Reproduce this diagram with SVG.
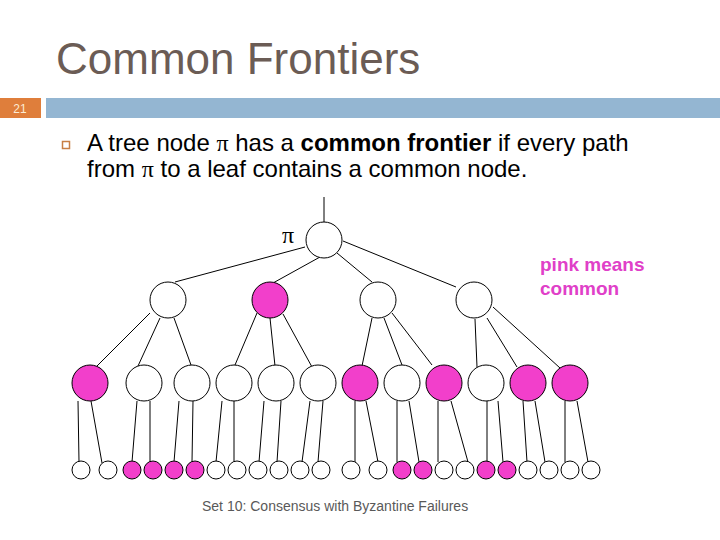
<svg xmlns="http://www.w3.org/2000/svg" width="720" height="540" viewBox="0 0 720 540">
<style>
.n{stroke:#000;stroke-width:1}
.w{fill:#fff}
.p{fill:#F23FCB}
.e{stroke:#000;stroke-width:1;fill:none}
.t{font-family:"Liberation Sans",Arial,sans-serif}
</style>
<rect width="720" height="540" fill="#fff"/>
<text class="t" x="56" y="74" font-size="44" fill="#6B5C55">Common Frontiers</text>
<rect x="0" y="98" width="41" height="20" fill="#DF7E3B"/>
<rect x="46" y="98" width="674" height="20" fill="#94B6D2"/>
<text class="t" x="20" y="113" font-size="12" fill="#FCEBD3" text-anchor="middle">21</text>
<rect x="62.5" y="141.5" width="7" height="7" fill="none" stroke="#C87F45" stroke-width="1.5"/>
<text class="t" font-size="24" fill="#000"><tspan x="87" y="151">A tree node <tspan font-family="'Liberation Serif',serif">π</tspan> has a <tspan font-weight="bold">common frontier</tspan> if every path</tspan><tspan x="87" y="177">from <tspan font-family="'Liberation Serif',serif">π</tspan> to a leaf contains a common node.</tspan></text>
<text x="282" y="243" font-size="24" font-family="'Liberation Serif',serif" fill="#000">π</text>
<text class="t" font-size="19" font-weight="bold" fill="#E040C8"><tspan x="540" y="271">pink means</tspan><tspan x="540" y="295">common</tspan></text>
<text class="t" x="202" y="511" font-size="14" fill="#595959">Set 10: Consensus with Byzantine Failures</text>
<g id="connectors">
<line class="e" x1="324" y1="197" x2="324" y2="222"/>
<line class="e" x1="305" y1="247" x2="175" y2="282"/>
<line class="e" x1="320" y1="257" x2="273" y2="283"/>
<line class="e" x1="337" y1="253" x2="372" y2="282"/>
<line class="e" x1="343" y1="241" x2="456" y2="287"/>
<line class="e" x1="150" y1="313" x2="96" y2="367"/>
<line class="e" x1="160" y1="318" x2="138" y2="366"/>
<line class="e" x1="174" y1="318" x2="191" y2="365"/>
<line class="e" x1="257" y1="313" x2="235" y2="365"/>
<line class="e" x1="270" y1="318" x2="275" y2="366"/>
<line class="e" x1="283" y1="314" x2="312" y2="367"/>
<line class="e" x1="372" y1="318" x2="362" y2="366"/>
<line class="e" x1="384" y1="318" x2="402" y2="365"/>
<line class="e" x1="392" y1="313" x2="432" y2="365"/>
<line class="e" x1="475" y1="319" x2="477" y2="367"/>
<line class="e" x1="487" y1="318" x2="517" y2="367"/>
<line class="e" x1="493" y1="307" x2="560" y2="368"/>
<line class="e" x1="78" y1="401" x2="79" y2="462"/>
<line class="e" x1="91" y1="401" x2="102" y2="463"/>
<line class="e" x1="137" y1="401" x2="132" y2="462"/>
<line class="e" x1="150" y1="401" x2="150" y2="462"/>
<line class="e" x1="179" y1="401" x2="174" y2="462"/>
<line class="e" x1="193" y1="401" x2="192" y2="462"/>
<line class="e" x1="222" y1="401" x2="216" y2="462"/>
<line class="e" x1="234" y1="401" x2="234" y2="462"/>
<line class="e" x1="264" y1="401" x2="259" y2="462"/>
<line class="e" x1="281" y1="401" x2="277" y2="462"/>
<line class="e" x1="310" y1="401" x2="302" y2="462"/>
<line class="e" x1="323" y1="401" x2="318" y2="462"/>
<line class="e" x1="355" y1="401" x2="355" y2="462"/>
<line class="e" x1="366" y1="401" x2="378" y2="462"/>
<line class="e" x1="397" y1="401" x2="397" y2="462"/>
<line class="e" x1="409" y1="401" x2="419" y2="462"/>
<line class="e" x1="438" y1="401" x2="438" y2="462"/>
<line class="e" x1="451" y1="401" x2="468" y2="462"/>
<line class="e" x1="487" y1="401" x2="487" y2="462"/>
<line class="e" x1="498" y1="401" x2="503" y2="462"/>
<line class="e" x1="523" y1="401" x2="527" y2="462"/>
<line class="e" x1="535" y1="401" x2="545" y2="462"/>
<line class="e" x1="565" y1="401" x2="565" y2="462"/>
<line class="e" x1="577" y1="401" x2="588" y2="462"/>
</g>
<g id="root"><circle class="n w" cx="324" cy="240" r="18"/></g>
<g id="l2">
<g id="a1"><circle class="n w" cx="168" cy="300" r="18"/></g>
<g id="a2"><circle class="n p" cx="270" cy="300" r="18"/></g>
<g id="a3"><circle class="n w" cx="378" cy="300" r="18"/></g>
<g id="a4"><circle class="n w" cx="474" cy="300" r="18"/></g>
</g>
<g id="l3">
<g id="b1"><circle class="n p" cx="90" cy="383" r="18"/></g>
<g id="b2"><circle class="n w" cx="144" cy="383" r="18"/></g>
<g id="b3"><circle class="n w" cx="192" cy="383" r="18"/></g>
<g id="b4"><circle class="n w" cx="234" cy="383" r="18"/></g>
<g id="b5"><circle class="n w" cx="276" cy="383" r="18"/></g>
<g id="b6"><circle class="n w" cx="318" cy="383" r="18"/></g>
<g id="b7"><circle class="n p" cx="360" cy="383" r="18"/></g>
<g id="b8"><circle class="n w" cx="402" cy="383" r="18"/></g>
<g id="b9"><circle class="n p" cx="444" cy="383" r="18"/></g>
<g id="b10"><circle class="n w" cx="486" cy="383" r="18"/></g>
<g id="b11"><circle class="n p" cx="528" cy="383" r="18"/></g>
<g id="b12"><circle class="n p" cx="570" cy="383" r="18"/></g>
</g>
<g id="leaves">
<g id="c1"><circle class="n w" cx="81" cy="470" r="9"/></g>
<g id="c2"><circle class="n w" cx="108" cy="470" r="9"/></g>
<g id="c3"><circle class="n p" cx="132" cy="470" r="9"/></g>
<g id="c4"><circle class="n p" cx="153" cy="470" r="9"/></g>
<g id="c5"><circle class="n p" cx="174" cy="470" r="9"/></g>
<g id="c6"><circle class="n p" cx="195" cy="470" r="9"/></g>
<g id="c7"><circle class="n w" cx="216" cy="470" r="9"/></g>
<g id="c8"><circle class="n w" cx="237" cy="470" r="9"/></g>
<g id="c9"><circle class="n w" cx="258" cy="470" r="9"/></g>
<g id="c10"><circle class="n w" cx="279" cy="470" r="9"/></g>
<g id="c11"><circle class="n w" cx="300" cy="470" r="9"/></g>
<g id="c12"><circle class="n w" cx="321" cy="470" r="9"/></g>
<g id="c13"><circle class="n w" cx="351" cy="470" r="9"/></g>
<g id="c14"><circle class="n w" cx="378" cy="470" r="9"/></g>
<g id="c15"><circle class="n p" cx="402" cy="470" r="9"/></g>
<g id="c16"><circle class="n p" cx="423" cy="470" r="9"/></g>
<g id="c17"><circle class="n w" cx="444" cy="470" r="9"/></g>
<g id="c18"><circle class="n w" cx="465" cy="470" r="9"/></g>
<g id="c19"><circle class="n p" cx="486" cy="470" r="9"/></g>
<g id="c20"><circle class="n p" cx="507" cy="470" r="9"/></g>
<g id="c21"><circle class="n w" cx="528" cy="470" r="9"/></g>
<g id="c22"><circle class="n w" cx="549" cy="470" r="9"/></g>
<g id="c23"><circle class="n w" cx="570" cy="470" r="9"/></g>
<g id="c24"><circle class="n w" cx="591" cy="470" r="9"/></g>
</g>
</svg>
